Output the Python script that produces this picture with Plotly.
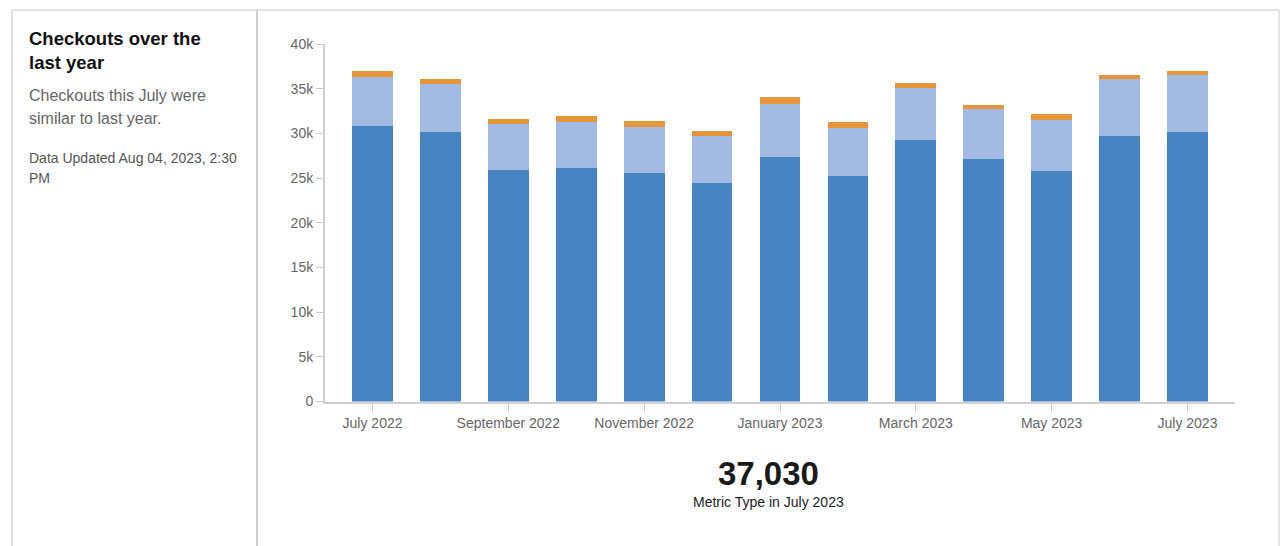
import plotly.graph_objects as go

# Monthly checkouts, split into three stacked components
months = ["July 2022", "August 2022", "September 2022", "October 2022",
          "November 2022", "December 2022", "January 2023", "February 2023",
          "March 2023", "April 2023", "May 2023", "June 2023", "July 2023"]
physical = [30810, 30140, 25880, 26110, 25550, 24430, 27340, 25210,
            29240, 27110, 25770, 29690, 30140]
digital = [5490, 5410, 5160, 5150, 5150, 5260, 5940, 5380,
           5830, 5610, 5710, 6390, 6390]
other = [670, 530, 560, 670, 670, 560, 780, 670,
         560, 450, 680, 450, 500]

y_ticks = [0, 5000, 10000, 15000, 20000, 25000, 30000, 35000, 40000]
y_tick_text = ["0", "5k", "10k", "15k", "20k", "25k", "30k", "35k", "40k"]

W, H = 1280, 546
FONT = "Liberation Sans, Arial, Helvetica, sans-serif"


def px_x(x):
    return x / W


def px_y(y):
    return (H - y) / H


idx = list(range(len(months)))
latest_total = physical[-1] + digital[-1] + other[-1]

fig = go.Figure()
for name, vals, color in [
    ("Physical", physical, "#4782c1"),
    ("Digital", digital, "#a3bbe3"),
    ("Other", other, "#e5953a"),
]:
    fig.add_trace(go.Bar(
        x=idx, y=vals, name=name, marker=dict(color=color, line=dict(width=0)),
        customdata=months,
        hovertemplate="%{customdata}<br>" + name + ": %{y:,}<extra></extra>",
    ))

fig.update_layout(
    template="none",
    width=W, height=H, autosize=False,
    margin=dict(l=0, r=0, t=0, b=0, pad=0, autoexpand=False),
    paper_bgcolor="white", plot_bgcolor="white",
    barmode="stack", bargap=0.4,
    showlegend=False,
    font=dict(family=FONT, size=14, color="#666666"),
    xaxis=dict(
        domain=[px_x(325), px_x(1235)],
        range=[-0.7, 12.7],
        automargin=False,
        tickmode="array",
        tickvals=idx[::2],
        ticktext=months[::2],
        ticks="outside", ticklen=8, tickwidth=1, tickcolor="#cccccc",
        showline=True, linecolor="#d0d0d0", linewidth=2,
        showgrid=False, zeroline=False,
        tickfont=dict(size=14, color="#666666"),
        fixedrange=True,
    ),
    yaxis=dict(
        domain=[px_y(401.5), px_y(44)],
        range=[0, 40000],
        automargin=False,
        tickmode="array",
        tickvals=y_ticks,
        ticktext=y_tick_text,
        ticks="outside", ticklen=7, tickwidth=1, tickcolor="#cccccc",
        showline=True, linecolor="#d0d0d0", linewidth=2,
        showgrid=False, zeroline=False,
        tickfont=dict(size=14, color="#666666"),
        fixedrange=True,
    ),
)

# Card frame and the divider between the text panel and the chart
frame = dict(type="line", xref="paper", yref="paper", layer="below")
fig.add_shape(**frame, x0=px_x(12), x1=px_x(1279), y0=px_y(10), y1=px_y(10),
              line=dict(color="#e2e2e2", width=2))
fig.add_shape(**frame, x0=px_x(12), x1=px_x(12), y0=px_y(10), y1=0,
              line=dict(color="#e2e2e2", width=2))
fig.add_shape(**frame, x0=px_x(1279), x1=px_x(1279), y0=px_y(10), y1=0,
              line=dict(color="#e2e2e2", width=2))
fig.add_shape(**frame, x0=px_x(257), x1=px_x(257), y0=px_y(10), y1=0,
              line=dict(color="#cfcfcf", width=2))


def text(x, y, s, size, color, bold=False, anchor="left"):
    fig.add_annotation(
        x=px_x(x), y=px_y(y), xref="paper", yref="paper",
        text=f"<b>{s}</b>" if bold else s,
        showarrow=False, xanchor=anchor, yanchor="middle",
        font=dict(family=FONT, size=size, color=color),
    )


# Left panel
text(27, 39, "Checkouts over the", 18.5, "#111111", bold=True)
text(27, 62, "last year", 18.5, "#111111", bold=True)
text(27, 95, "Checkouts this July were", 16, "#666666")
text(27, 118, "similar to last year.", 16, "#666666")
text(27, 158, "Data Updated Aug 04, 2023, 2:30", 14, "#555555")
text(27, 178, "PM", 14, "#555555")

# Headline figure under the chart
text(768, 473, f"{latest_total:,}", 33, "#1a1a1a", bold=True, anchor="center")
text(768, 502, f"Metric Type in {months[-1]}", 14, "#222222", anchor="center")

fig.write_html("out.html")
